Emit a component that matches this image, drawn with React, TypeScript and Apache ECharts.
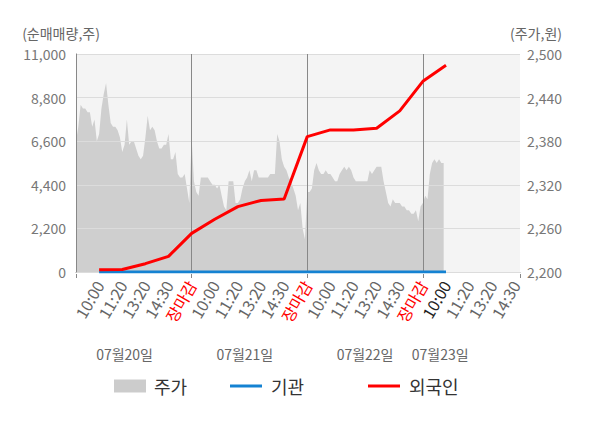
import React, { useEffect, useRef } from 'react';
import * as echarts from 'echarts';

// ---- data ----
const TIME_LABELS = ['10:00', '11:20', '13:20', '14:30', '장마감'];
const DAYS = ['07월20일', '07월21일', '07월22일', '07월23일'];
const DAY_LABEL_SLOTS = [2.1, 7.3, 12.5, 15.75];
const DAY_BOUNDARIES = [5, 10, 15];
const X_MAX = 19.2;
const PRICE_STEP = 0.1; // slot units per price sample

const PRICE_0720 = [
  2380, 2400, 2430, 2425, 2425, 2420, 2420, 2400, 2410, 2380,
  2390, 2425, 2445, 2460, 2430, 2405, 2400, 2400, 2395, 2385,
  2365, 2375, 2410, 2375, 2380, 2380, 2370, 2360, 2355, 2360,
  2385, 2415, 2395, 2400, 2395, 2380, 2370, 2370, 2375, 2375,
  2390, 2355, 2355, 2365, 2335, 2330, 2330, 2335, 2315, 2295,
];
const PRICE_0721 = [
  2385, 2325, 2310, 2305, 2330, 2330, 2330, 2330, 2325, 2320,
  2320, 2315, 2320, 2305, 2290, 2285, 2325, 2325, 2325, 2295,
  2295, 2300, 2315, 2325, 2330, 2340, 2325, 2340, 2340, 2330,
  2330, 2330, 2330, 2330, 2335, 2335, 2335, 2390, 2380, 2355,
  2345, 2340, 2330, 2325, 2315, 2305, 2285, 2295, 2260, 2245,
];
const PRICE_0722 = [
  2310, 2310, 2315, 2340, 2350, 2340, 2335, 2335, 2340, 2335,
  2335, 2330, 2325, 2325, 2335, 2340, 2345, 2340, 2345, 2340,
  2330, 2325, 2325, 2325, 2325, 2325, 2325, 2340, 2335, 2340,
  2345, 2345, 2345, 2325, 2310, 2295, 2290, 2300, 2295, 2295,
  2295, 2290, 2290, 2285, 2285, 2280, 2280, 2285, 2270, 2290,
];
const PRICE_0723 = [2295, 2305, 2300, 2335, 2350, 2355, 2350, 2355, 2350, 2350];

// investor cumulative net buying, one value per slot (10:00 07/20 .. 10:00 07/23)
const INSTITUTION = [0, 0, 0, 0, 0, 0, 0, 0, 0, 0, 0, 0, 0, 0, 0, 0];
const FOREIGN = [
  115, 130, 420, 790, 1950,
  2660, 3300, 3610, 3680, 6830,
  7170, 7170, 7255, 8130, 9620,
  10430,
];

const LEFT_MIN = 0;
const LEFT_MAX = 11000;
const LEFT_STEP = 2200;
const RIGHT_MIN = 2200;
const RIGHT_MAX = 2500;
const RIGHT_STEP = 60;
const LEFT_NAME = '(순매매량,주)';
const RIGHT_NAME = '(주가,원)';

const FONT = "'Noto Sans CJK KR', 'Noto Sans', sans-serif";

const fmt = (v: number) => v.toLocaleString('en-US');

export default function App() {
  const ref = useRef<HTMLDivElement>(null);

  useEffect(() => {
    document.body.style.margin = '0';
    if (!ref.current) return;
    const chart = echarts.init(ref.current, undefined, { renderer: 'svg' });

    const prices = [...PRICE_0720, ...PRICE_0721, ...PRICE_0722, ...PRICE_0723];
    const priceData = prices.map((p, i) => [+(i * PRICE_STEP).toFixed(2), p]);
    const slotData = (arr: number[]) => arr.map((v, i) => [i + 1, v]);
    const currentSlot = FOREIGN.length;

    const xLabelFormatter = (value: number) => {
      const v = Math.round(value);
      if (Math.abs(value - v) > 1e-6 || v < 1) return '';
      const lbl = TIME_LABELS[(v - 1) % TIME_LABELS.length];
      if (lbl === '장마감') return `{close|${lbl}}`;
      if (v === currentSlot) return `{now|${lbl}}`;
      return `{t|${lbl}}`;
    };

    const richBase = { fontSize: 16, fontFamily: FONT };
    const legendText = { fontSize: 18, color: '#333', fontFamily: FONT, padding: [0, 0, 0, 3] };

    chart.setOption({
      animation: false,
      textStyle: { fontFamily: FONT },
      grid: {
        left: 76,
        right: 80,
        top: 54,
        bottom: 156,
        show: true,
        backgroundColor: '#f4f4f4',
        borderWidth: 0,
      },
      legend: [
        {
          data: [{ name: '주가', icon: 'rect' }],
          left: 114, top: 377, padding: 0,
          itemWidth: 32, itemHeight: 13,
          textStyle: legendText,
        },
        {
          data: [{ name: '기관', icon: 'rect' }],
          left: 230, top: 377, padding: 0,
          itemWidth: 32, itemHeight: 3,
          textStyle: { ...legendText, padding: [0, 0, 0, 4] },
        },
        {
          data: [{ name: '외국인', icon: 'rect' }],
          left: 368, top: 377, padding: 0,
          itemWidth: 32, itemHeight: 3,
          textStyle: { ...legendText, padding: [0, 0, 0, 4] },
        },
      ],
      xAxis: [
        {
          type: 'value',
          min: 0,
          max: X_MAX,
          interval: 1,
          offset: 2,
          axisLine: { show: true, lineStyle: { color: '#999', width: 1 } },
          axisTick: { show: false },
          splitLine: { show: false },
          axisLabel: {
            rotate: 60,
            margin: 8,
            showMinLabel: true,
            showMaxLabel: true,
            formatter: xLabelFormatter,
            rich: {
              t: { ...richBase, color: '#666' },
              close: { ...richBase, color: '#ff0000' },
              now: { ...richBase, color: '#222' },
            },
          },
        },
        {
          type: 'value',
          position: 'bottom',
          min: 0,
          max: X_MAX,
          interval: 5,
          offset: 2,
          axisLine: { show: false },
          axisTick: { show: true, length: 4, lineStyle: { color: '#888' } },
          axisLabel: { show: false },
          splitLine: { show: false },
        },
      ],
      yAxis: [
        {
          type: 'value',
          min: LEFT_MIN,
          max: LEFT_MAX,
          interval: LEFT_STEP,
          z: 3,
          axisLine: { show: true, lineStyle: { color: '#888' } },
          axisTick: { show: false },
          axisLabel: { formatter: (v: number) => fmt(v), fontSize: 14, color: '#777', margin: 10, fontFamily: FONT },
          splitLine: { show: true, lineStyle: { color: '#dcdcdc', width: 1 } },
        },
        {
          type: 'value',
          min: RIGHT_MIN,
          max: RIGHT_MAX,
          interval: RIGHT_STEP,
          position: 'right',
          axisLine: { show: true, lineStyle: { color: '#ddd' } },
          axisTick: { show: false },
          axisLabel: { formatter: (v: number) => fmt(v), fontSize: 14, color: '#777', margin: 7, fontFamily: FONT },
          splitLine: { show: false },
        },
      ],
      series: [
        {
          name: '주가',
          type: 'line',
          xAxisIndex: 0,
          yAxisIndex: 1,
          data: priceData,
          symbol: 'none',
          z: 1,
          lineStyle: { width: 0, color: '#cfcfcf' },
          itemStyle: { color: '#cccccc' },
          areaStyle: { color: '#cfcfcf', opacity: 1 },
          markLine: {
            silent: true,
            symbol: 'none',
            label: { show: false },
            lineStyle: { color: '#888', width: 1, type: 'solid' },
            data: DAY_BOUNDARIES.map((b) => ({ xAxis: b })),
          },
        },
        {
          name: '기관',
          type: 'line',
          xAxisIndex: 0,
          yAxisIndex: 0,
          data: slotData(INSTITUTION),
          symbol: 'none',
          z: 6,
          lineStyle: { width: 3, color: '#1482d2' },
          itemStyle: { color: '#1482d2' },
        },
        {
          name: '외국인',
          type: 'line',
          xAxisIndex: 0,
          yAxisIndex: 0,
          data: slotData(FOREIGN),
          symbol: 'none',
          z: 7,
          lineStyle: { width: 3, color: '#ff0000' },
          itemStyle: { color: '#ff0000' },
        },
      ],
    });

    const xLeft = chart.convertToPixel({ xAxisIndex: 0 }, 0) as number;
    const xRight = chart.convertToPixel({ xAxisIndex: 0 }, X_MAX) as number;
    const nameStyle = { fontSize: 14, fill: '#666', fontFamily: FONT, align: 'center', verticalAlign: 'middle' };

    const graphics: any[] = DAYS.map((d, k) => ({
      type: 'text',
      x: chart.convertToPixel({ xAxisIndex: 0 }, DAY_LABEL_SLOTS[k]) as number,
      y: 354,
      style: {
        text: d,
        align: 'center',
        verticalAlign: 'middle',
        fontSize: 14,
        fill: '#666',
        fontFamily: FONT,
      },
    }));
    graphics.push({ type: 'text', x: xLeft - 15, y: 33, style: { ...nameStyle, text: LEFT_NAME } });
    graphics.push({ type: 'text', x: xRight + 16, y: 33, style: { ...nameStyle, text: RIGHT_NAME } });
    chart.setOption({ graphic: graphics });

    return () => chart.dispose();
  }, []);

  return <div ref={ref} style={{ width: 600, height: 428 }} />;
}
